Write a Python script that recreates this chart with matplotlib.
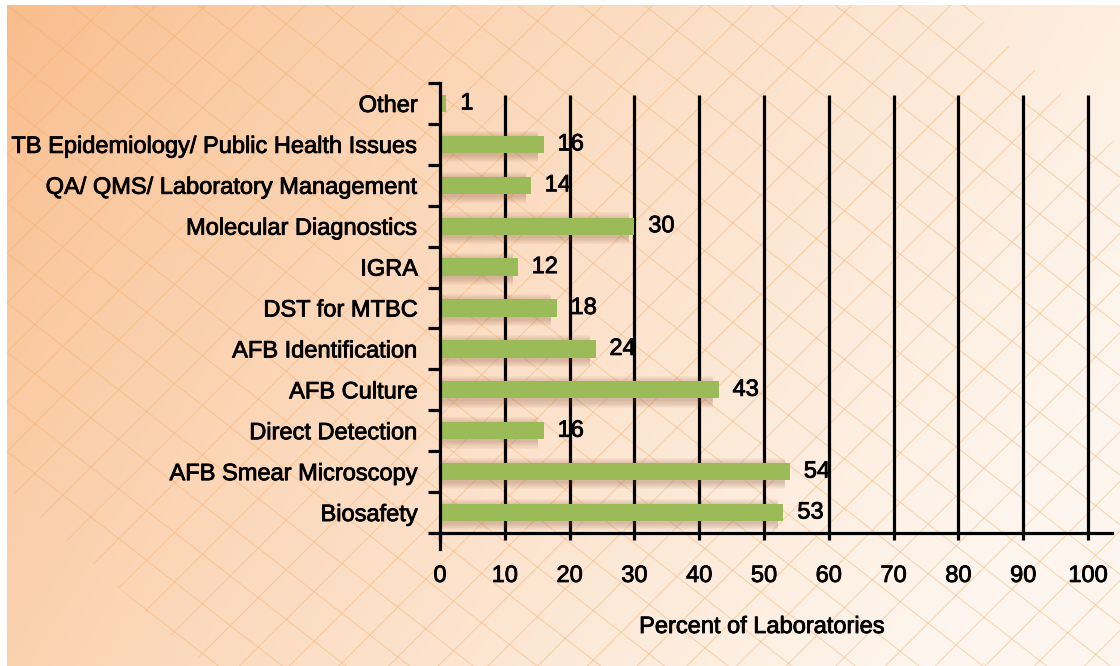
import numpy as np
import matplotlib
matplotlib.use("Agg")
import matplotlib.pyplot as plt
import matplotlib.patheffects as pe
from matplotlib.patches import Polygon

plt.rcParams['font.family'] = ['Liberation Sans', 'DejaVu Sans']

categories = ["Biosafety", "AFB Smear Microscopy", "Direct Detection", "AFB Culture",
              "AFB Identification", "DST for MTBC", "IGRA", "Molecular Diagnostics",
              "QA/ QMS/ Laboratory Management", "TB Epidemiology/ Public Health Issues", "Other"]
values = [53, 54, 16, 43, 24, 18, 12, 30, 14, 16, 1]
xticks = [0, 10, 20, 30, 40, 50, 60, 70, 80, 90, 100]
xlabel = "Percent of Laboratories"

W, H = 1120, 666
FS = 17
bold_fx = [pe.withStroke(linewidth=0.6, foreground="black")]

fig = plt.figure(figsize=(W / 100, H / 100), dpi=100)
fig.patch.set_facecolor("white")

# background: peach gradient with diagonal lattice
bg = fig.add_axes([7 / W, 0, 1 - 7 / W, 1 - 5 / H])
bg.set_xlim(0, W)
bg.set_ylim(H, 0)
bg.axis("off")
yy, xx = np.mgrid[0:H:4, 0:W:4]
t = np.clip(0.85 * xx / W + 0.3 * yy / H, 0, 1) ** 0.8
c0 = np.array([249, 188, 138]) / 255
c1 = np.array([254, 246, 238]) / 255
img = c0[None, None, :] * (1 - t[..., None]) + c1[None, None, :] * t[..., None]
bg.imshow(img, extent=[0, W, H, 0], aspect="auto", zorder=0)

band = Polygon([[-50, -50], [910, -50], [1180, 200], [1180, 720], [260, 720], [-50, 440]],
               closed=True, transform=bg.transData, facecolor="none", edgecolor="none")
bg.add_patch(band)
for c in np.arange(-1200, 1400, 50):
    xs = np.array([-100, 1300])
    l1, = bg.plot(xs, 0.78 * xs + c, color="#f7ae68", lw=0.7, alpha=0.5, zorder=1)
    l2, = bg.plot(xs, -1.0 * (xs - 1300) + c, color="#f7ae68", lw=0.7, alpha=0.5, zorder=1)
    l1.set_clip_path(band)
    l2.set_clip_path(band)

# main chart
ax = fig.add_axes([440 / W, (H - 533) / H, 672 / W, 450 / H])
ax.patch.set_alpha(0)
ypos = np.arange(len(categories))
ax.set_xlim(0, 103.7)
ax.set_ylim(-0.5, 10.5)
for s in ax.spines.values():
    s.set_visible(False)

# gridlines
ax.vlines(xticks[1:], -0.5, 10.2, color="black", lw=2.3, zorder=2)

# soft shadow under bars
for k in range(1, 8):
    ax.barh(ypos - 0.05, np.array(values) + 0.3 * k, left=-0.3 * k - 0.8,
            height=0.42 + 0.05 * k, color="#7e4a30", alpha=0.045, lw=0, zorder=3)

ax.barh(ypos, values, height=0.42, color="#9bbb59", zorder=4)

for y, v in zip(ypos, values):
    ax.annotate(str(v), (v, y), xytext=(10, 0), textcoords="offset points",
                va="center", ha="left", fontsize=FS, color="black", zorder=5,
                path_effects=bold_fx)

# axis lines
ax.plot([0, 103.7], [-0.5, -0.5], color="black", lw=2.3, clip_on=False, zorder=6)
ax.plot([0, 0], [-0.88, 10.5], color="black", lw=2.3, clip_on=False, zorder=6)

ax.set_xticks(xticks)
ax.set_xticklabels([str(x) for x in xticks], fontsize=FS)
ax.tick_params(axis="x", length=5, width=2.3, pad=18, color="black")
ax.set_yticks(ypos)
ax.set_yticklabels(categories, fontsize=FS)
ax.tick_params(axis="y", length=0, pad=16)
ax.set_yticks(np.arange(-0.5, 11, 1), minor=True)
ax.tick_params(axis="y", which="minor", length=9, width=2.3, color="black")
for lbl in ax.get_xticklabels() + ax.get_yticklabels():
    lbl.set_path_effects(bold_fx)

fig.text(762 / W, (H - 627) / H, xlabel, ha="center", va="center", fontsize=FS,
         path_effects=bold_fx)

fig.savefig("out.png", dpi=100)
